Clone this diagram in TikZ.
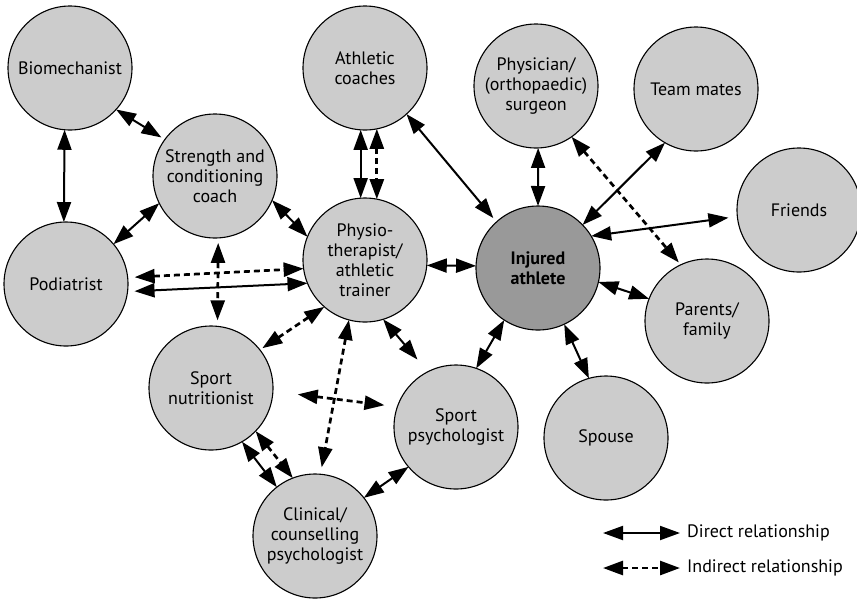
\documentclass[tikz,border=0pt]{standalone}
\usepackage{fontspec}
\setmainfont{PT Sans}
\usetikzlibrary{arrows.meta}
\definecolor{nodegray}{RGB}{204,204,204}
\definecolor{hubgray}{RGB}{153,153,153}

\begin{document}
\begin{tikzpicture}[x=1pt,y=-1pt,
  role/.style={circle, draw=black, line width=1.1pt, fill=nodegray,
    minimum size=124pt, inner sep=-12pt, outer sep=0pt, align=center,
    font=\fontsize{18}{20}\selectfont},
  hub/.style={role, fill=hubgray, font=\fontsize{18}{20}\selectfont\bfseries},
  direct/.style={line width=2pt,
    {Triangle[length=20pt,width=14pt]}-{Triangle[length=20pt,width=14pt]}},
  indirect/.style={direct, line width=2.7pt, dash pattern=on 6pt off 4pt},
  legendtext/.style={anchor=west, inner sep=0pt, font=\fontsize{18}{20}\selectfont}]

\useasboundingbox (0,0) rectangle (857,598);

% people around the injured athlete
\node[role] (bio)    at (70,68)   {Biomechanist};
\node[role] (str)    at (215,176) {Strength and\\conditioning\\coach};
\node[role] (ath)    at (365,68)  {Athletic\\coaches};
\node[role] (phys)   at (536,86)  {Physician/\\(orthopaedic)\\surgeon};
\node[role] (team)   at (696,89)  {Team mates};
\node[role] (fri)    at (799,210) {Friends};
\node[role] (pod)    at (66,284)  {Podiatrist};
\node[role] (physio) at (365,260) {Physio-\\therapist/\\athletic\\trainer};
\node[hub]  (inj)    at (538,268) {Injured\\athlete};
\node[role] (par)    at (707,321) {Parents/\\family};
\node[role] (nut)    at (211,388) {Sport\\nutritionist};
\node[role] (psy)    at (456,427) {Sport\\psychologist};
\node[role] (spo)    at (606,438) {Spouse};
\node[role] (cli)    at (315,536) {Clinical/\\counselling\\psychologist};

% direct relationships
\draw[direct] (bio.265) -- (pod.92);
\draw[direct, shorten >=4pt] (bio.-42) -- (str.144);
\draw[direct] (str.206) -- (pod.40);
\draw[direct] (str.-23) -- (physio.158);
\draw[direct, shorten <=7pt] (pod.-7) -- (physio.202);
\draw[direct, shorten >=16pt] (physio.-73) -- (psy.117);
\draw[direct] (ath.266) -- (physio.94);
\draw[direct, shorten >=5pt] (ath.-48) -- (inj.132);
\draw[direct] (phys.-88) -- (inj.90);
\draw[direct] (inj.44) -- (team.240);
\draw[direct, shorten >=9pt] (inj.31) -- (fri.186);
\draw[direct] (inj.-13) -- (par.159);
\draw[direct] (inj.-65) -- (spo.106);
\draw[direct] (inj.237) -- (psy.71);
\draw[direct] (physio.-5) -- (inj.178);
\draw[direct] (nut.-60) -- (cli.128);
\draw[direct] (cli.38) -- (psy.220);

% indirect relationships
\draw[indirect, shorten <=5pt, shorten >=6pt] (str.273) -- (nut.84);
\draw[indirect, shorten <=7pt] (pod.6) -- (physio.188);
\draw[indirect, shorten >=3pt] (physio.-131) -- (nut.38);
\draw[indirect, shorten >=7pt] (physio.255) -- (cli.85);
\draw[indirect] (ath.281) -- (physio.79);
\draw[indirect, shorten >=3pt] (phys.-55) -- (par.115);
\draw[indirect, shorten <=25pt, shorten >=13pt] (nut.-3) -- (psy.161);
\draw[indirect] (nut.-44) -- (cli.111);

% legend
\coordinate (d1) at (603,533);
\coordinate (d2) at (680,533);
\coordinate (i1) at (603,568);
\coordinate (i2) at (680,568);
\draw[direct] (d1) -- (d2);
\draw[indirect] (i1) -- (i2);
\node[legendtext] (dlab) at (687,533) {Direct relationship};
\node[legendtext] (ilab) at (687,568) {Indirect relationship};
\end{tikzpicture}
\end{document}
